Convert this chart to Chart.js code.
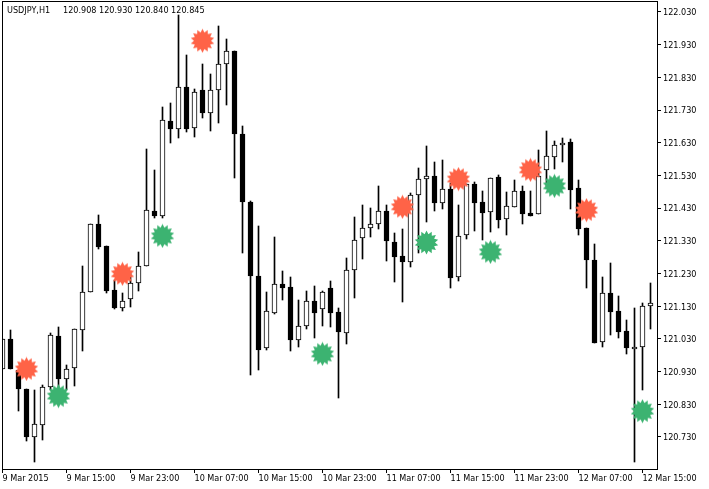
<!DOCTYPE html>
<html>
<head>
<meta charset="utf-8">
<title>USDJPY,H1</title>
<script src="https://cdn.jsdelivr.net/npm/chart.js@4"></script>
<style>
html, body { margin: 0; padding: 0; background: #fff; }
canvas { display: block; }
</style>
</head>
<body>
<canvas id="chart" width="709" height="489"></canvas>
<script>
// Candle values, one entry per hourly bar
const opens = [120.938,121.030,120.935,120.877,120.730,120.766,120.883,121.039,120.907,120.941,121.057,121.173,121.382,121.314,121.180,121.125,121.152,121.201,121.253,121.421,121.406,121.697,121.672,121.801,121.675,121.792,121.721,121.792,121.871,121.911,121.657,121.449,121.222,121.002,121.109,121.198,121.189,121.027,121.069,121.146,121.121,121.186,121.112,121.048,121.241,121.339,121.369,121.382,121.421,121.327,121.284,121.265,121.470,121.519,121.528,121.446,121.489,121.219,121.348,121.504,121.449,121.418,121.525,121.397,121.434,121.483,121.415,121.412,121.547,121.587,121.623,121.633,121.492,121.369,121.271,121.020,121.170,121.115,121.054,120.999,121.005,121.131];
const highs = [121.030,121.057,120.935,120.877,120.874,120.889,121.048,121.066,120.950,121.060,121.253,121.382,121.409,121.314,121.210,121.170,121.232,121.296,121.611,121.547,121.740,121.752,122.021,121.899,121.795,121.871,121.841,121.987,121.948,121.911,121.681,121.452,121.375,121.173,121.342,121.238,121.219,121.149,121.177,121.192,121.177,121.207,121.125,121.278,121.403,121.440,121.431,121.498,121.440,121.354,121.366,121.476,121.553,121.620,121.571,121.577,121.507,121.440,121.504,121.510,121.483,121.523,121.531,121.480,121.516,121.498,121.483,121.608,121.666,121.636,121.645,121.642,121.516,121.369,121.320,121.219,121.262,121.161,121.088,121.125,121.140,121.201];
const lows = [120.938,120.938,120.809,120.718,120.653,120.721,120.874,120.883,120.874,120.886,120.993,121.173,121.305,121.170,121.121,121.115,121.128,121.177,121.253,121.400,121.400,121.629,121.645,121.663,121.648,121.706,121.666,121.691,121.746,121.523,121.293,120.919,120.935,120.996,121.106,121.149,120.993,121.005,121.060,121.033,121.069,121.066,120.849,121.014,121.155,121.274,121.342,121.366,121.268,121.204,121.143,121.250,121.293,121.388,121.421,121.427,121.186,121.207,121.336,121.360,121.333,121.357,121.369,121.348,121.434,121.382,121.406,121.412,121.495,121.550,121.571,121.427,121.348,121.186,121.017,121.005,121.042,121.033,120.984,120.653,120.874,121.060];
const closes = [121.030,120.938,120.877,120.730,120.770,120.883,121.042,120.907,120.938,121.060,121.173,121.382,121.311,121.177,121.125,121.146,121.201,121.253,121.424,121.406,121.700,121.672,121.801,121.672,121.786,121.721,121.792,121.871,121.911,121.657,121.449,121.222,120.996,121.115,121.198,121.186,121.027,121.069,121.146,121.109,121.173,121.109,121.051,121.241,121.333,121.369,121.382,121.421,121.330,121.281,121.265,121.470,121.519,121.528,121.446,121.489,121.216,121.345,121.504,121.446,121.415,121.523,121.394,121.437,121.483,121.412,121.406,121.528,121.590,121.623,121.629,121.486,121.366,121.271,121.017,121.170,121.112,121.051,121.002,121.005,121.131,121.140];

// Signal markers: bar index and price
const sellBars = [3,15,25,50,57,66,73];
const sellPrices = [120.938,121.229,121.942,121.434,121.519,121.547,121.424];
const buyBars = [7,20,40,53,61,69,80];
const buyPrices = [120.855,121.345,120.984,121.325,121.296,121.498,120.809];

// Axis ticks
const priceTicks = [122.03,121.93,121.83,121.73,121.63,121.53,121.43,121.33,121.23,121.13,121.03,120.93,120.83,120.73];
const timeTickBars = [0,8,16,24,32,40,48,56,64,72,80];
const timeTickLabels = ['9 Mar 2015','9 Mar 15:00','9 Mar 23:00','10 Mar 07:00','10 Mar 15:00','10 Mar 23:00','11 Mar 07:00','11 Mar 15:00','11 Mar 23:00','12 Mar 07:00','12 Mar 15:00'];
const headerText = 'USDJPY,H1     120.908 120.930 120.840 120.845';

const FONT = '"DejaVu Sans Condensed", "Liberation Sans", sans-serif';
const FONT_SIZE = 9;

// 14 point star sprite for the signal markers
function makeStar(color) {
    const size = 25, c = document.createElement('canvas');
    c.width = size; c.height = size;
    const g = c.getContext('2d');
    const spikes = 14, outer = 12, inner = 8.5;
    g.fillStyle = color;
    g.beginPath();
    for (let i = 0; i < spikes * 2; i++) {
        const r = i % 2 ? inner : outer;
        const a = i * Math.PI / spikes - Math.PI / 2;
        g.lineTo(size / 2 + r * Math.cos(a), size / 2 + r * Math.sin(a));
    }
    g.closePath();
    g.fill();
    return c;
}

// Frame round the plot, header text, and whole-pixel candle edges
const framePlugin = {
    id: 'frame',
    beforeDatasetsDraw(chart) {
        chart.data.datasets.forEach((ds, i) => {
            if (ds.type !== 'bar') return;
            chart.getDatasetMeta(i).data.forEach(el => {
                el.y = Math.round(el.y);
                el.base = Math.round(el.base);
            });
        });
    },
    afterDraw(chart) {
        const { ctx, chartArea: a } = chart;
        ctx.save();
        ctx.strokeStyle = '#000';
        ctx.lineWidth = 1;
        ctx.strokeRect(a.left + 0.5, a.top + 0.5, a.right - a.left, a.bottom - a.top);
        ctx.fillStyle = '#000';
        ctx.font = FONT_SIZE + 'px ' + FONT;
        ctx.textBaseline = 'alphabetic';
        ctx.fillText(headerText, 7, 13);
        ctx.restore();
    }
};

function noPadding(scale) {
    scale.paddingTop = 0;
    scale.paddingBottom = 0;
    scale.paddingLeft = 0;
    scale.paddingRight = 0;
}

new Chart(document.getElementById('chart'), {
    type: 'bar',
    data: {
        datasets: [
            {
                type: 'scatter',
                data: sellBars.map((b, i) => ({ x: b, y: sellPrices[i] })),
                pointStyle: makeStar('#FF6347'),
                pointRadius: 12,
                clip: false,
                order: 0
            },
            {
                type: 'scatter',
                data: buyBars.map((b, i) => ({ x: b, y: buyPrices[i] })),
                pointStyle: makeStar('#3CB371'),
                pointRadius: 12,
                clip: false,
                order: 0
            },
            {
                type: 'bar',
                data: opens.map((o, i) => ({ x: i, y: [Math.min(o, closes[i]), Math.max(o, closes[i])] })),
                backgroundColor: opens.map((o, i) => closes[i] >= o ? '#fff' : '#000'),
                borderColor: '#000',
                borderWidth: 1,
                borderSkipped: false,
                barThickness: 5,
                grouped: false,
                order: 1
            },
            {
                type: 'bar',
                data: highs.map((h, i) => ({ x: i, y: [lows[i], h] })),
                backgroundColor: '#000',
                barThickness: 1,
                grouped: false,
                order: 2
            }
        ]
    },
    options: {
        responsive: false,
        animation: false,
        layout: { autoPadding: false, padding: { top: 1, left: 2, right: 0, bottom: 0 } },
        plugins: { legend: { display: false }, tooltip: { enabled: false } },
        scales: {
            x: {
                type: 'linear',
                offset: false,
                min: -0.0625,
                max: 81.8125,
                afterBuildTicks(scale) { scale.ticks = timeTickBars.map(v => ({ value: v })); },
                afterFit(scale) { scale.height = 20; noPadding(scale); },
                grid: { offset: false, drawOnChartArea: false, drawTicks: true, tickLength: 4, color: '#000' },
                border: { display: false },
                ticks: {
                    autoSkip: false,
                    maxRotation: 0,
                    align: 'start',
                    padding: 0,
                    color: '#000',
                    font: { family: FONT, size: FONT_SIZE },
                    callback: (v) => timeTickLabels[timeTickBars.indexOf(v)]
                }
            },
            y: {
                type: 'linear',
                position: 'right',
                min: 120.632,
                max: 122.0636,
                afterBuildTicks(scale) { scale.ticks = priceTicks.map(v => ({ value: v })); },
                afterFit(scale) { scale.width = 52; noPadding(scale); },
                grid: { drawOnChartArea: false, drawTicks: true, tickLength: 4, color: '#000' },
                border: { display: false },
                ticks: {
                    autoSkip: false,
                    padding: 2,
                    labelOffset: 1,
                    color: '#000',
                    font: { family: FONT, size: FONT_SIZE },
                    callback: (v) => v.toFixed(3)
                }
            }
        }
    },
    plugins: [framePlugin]
});
</script>
</body>
</html>
